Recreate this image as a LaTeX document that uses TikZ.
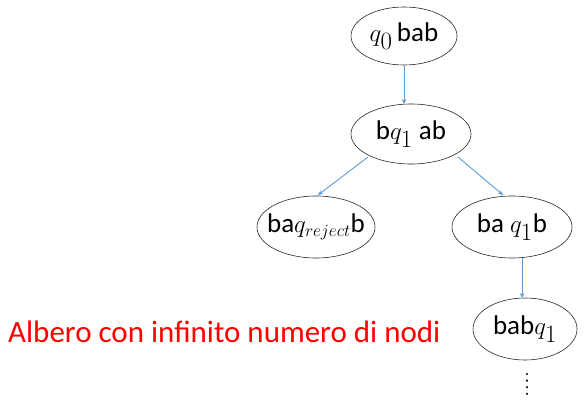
\documentclass[tikz,border=0pt]{standalone}
\usepackage{fontspec}
\setmainfont{Carlito}
\usetikzlibrary{arrows.meta,shapes.geometric}
\definecolor{arrblue}{HTML}{5B9BD5}
\newcommand\qs[1]{{\fontsize{34}{36}\selectfont$q_{#1}$}}
\newcommand\qrej{{\fontsize{34}{36}\selectfont$q_{\scriptscriptstyle reject}$}}
\tikzset{
  st/.style={draw=black!85, ellipse, line width=0.6pt, inner xsep=-12pt, inner ysep=-6pt, font=\fontsize{27}{30}\selectfont},
  tr/.style={draw=arrblue, line width=0.9pt, -{Stealth[length=5pt,width=4.5pt]}},
}
\begin{document}
\begin{tikzpicture}[x=1pt,y=-1pt]
\useasboundingbox (0,0) rectangle (585,406);
\node[st, minimum width=106pt, minimum height=58pt] (a) at (404,36) {\qs{0}\,bab};
\node[st, minimum width=120pt, minimum height=60pt] (b) at (411,134) {b\qs{1} ab};
\node[st, minimum width=118pt, minimum height=62pt] (c) at (316,227) {ba\qrej b};
\node[st, minimum width=120pt, minimum height=62pt] (d) at (512,227) {ba \qs{1}b};
\node[st, minimum width=104pt, minimum height=62pt] (e) at (525,329) {bab\qs{1}};
\coordinate (a1) at (404,66);
\coordinate (b0) at (404,104);
\draw[tr] (a1) -- (b0);
\coordinate (b1) at (368,157);
\coordinate (c0) at (318,195);
\draw[tr] (b1) -- (c0);
\coordinate (b2) at (458,157);
\coordinate (d0) at (503,195);
\draw[tr] (b2) -- (d0);
\coordinate (d1) at (522,258);
\coordinate (e0) at (522,298);
\draw[tr] (d1) -- (e0);
\coordinate (v0) at (527,374);
\coordinate (v1) at (527,395);
\draw[line width=2.4pt, line cap=round, dash pattern=on 0pt off 6.6pt] (v0) -- (v1);
\node[anchor=base west, inner sep=0pt, text=red, font=\fontsize{31}{36}\selectfont] (lbl) at (8,342) {Albero con infinito numero di nodi};
\end{tikzpicture}
\end{document}
